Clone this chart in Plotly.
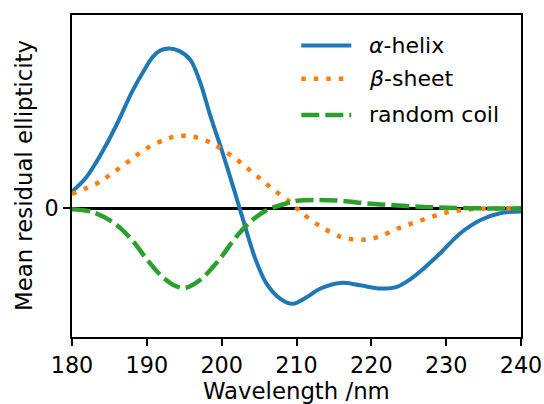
import plotly.graph_objects as go

# Wavelength (nm) and mean residual ellipticity (arbitrary units)
helix_x = [180, 181.8, 184.2, 186.2, 188.0, 190.0, 190.8, 191.8, 193.0, 194.3, 195.8, 197.1,
           198.5, 200.0, 201.5, 203.0, 204.5, 206.0, 207.8, 209.5, 211.4, 213.2,
           215.9, 218.5, 221.2, 223.4, 225.2, 226.5, 229.2, 231.9, 234.6, 237.2, 240]
helix_y = [4.2, 7.5, 14.6, 21.8, 29.0, 35.6, 37.8, 39.4, 39.9, 39.3, 37.1, 31.6,
           23.0, 14.6, 5.6, -3.7, -12.6, -18.8, -22.5, -23.8, -22.1, -20.0,
           -18.6, -19.2, -20.0, -19.6, -17.7, -15.8, -11.2, -6.2, -2.9, -1.2, -0.8]

sheet_x = [180, 183.3, 184.9, 187.4, 190.0, 192.9, 194.6, 196.1, 197.7, 199.1, 201.7, 204.3,
           206.7, 209.2, 210.5, 213.1, 215.9, 217.6, 219.2, 220.8, 223.6, 226.8, 229.9,
           232.8, 236, 240]
sheet_y = [3.6, 6.2, 8.1, 11.5, 15.0, 17.5, 18.1, 17.9, 17.1, 15.8, 12.6, 8.7,
           5.0, 1.5, -0.8, -4.4, -7.1, -7.75, -7.75, -7.2, -5.0, -2.9, -1.1,
           -0.3, 0.0, 0.0]

coil_x = [180, 182.9, 186.0, 188.2, 190.0, 192.2, 194.0, 195.2, 197.1, 199.8, 201.6, 203.8,
          206.1, 208.7, 210.1, 212.7, 215.9, 219.4, 223.0, 226.5, 230.1, 235, 240]
coil_y = [-0.2, -1.0, -4.2, -8.3, -12.7, -17.3, -19.5, -19.8, -17.9, -12.5, -7.9, -3.4,
          -0.4, 1.25, 1.9, 2.1, 1.9, 1.25, 0.8, 0.4, 0.15, 0.0, 0.0]

x_ticks = [180, 190, 200, 210, 220, 230, 240]
series_names = ["<i>α</i>-helix", "<i>β</i>-sheet", "random coil"]
colors = ["#1f77b4", "#ff7f0e", "#2ca02c"]
widths = [4, 4.5, 4.5]
dashes = ["solid", "4.5px,8px", "18px,6px"]

fig = go.Figure()
for xs, ys, name, c, w, d in zip([helix_x, sheet_x, coil_x], [helix_y, sheet_y, coil_y],
                                 series_names, colors, widths, dashes):
    fig.add_trace(go.Scatter(x=xs, y=ys, mode="lines", name=name, showlegend=False,
                             line=dict(color=c, width=w, dash=d, shape="spline", smoothing=1.0)))

# manual legend (matplotlib style: 50px handles, no frame)
leg_y = [0.9054, 0.8018, 0.6898]
for name, c, w, d, yy in zip(series_names, colors, widths, dashes, leg_y):
    fig.add_shape(type="line", xref="paper", yref="paper", x0=0.5107, x1=0.622, y0=yy, y1=yy,
                  line=dict(color=c, width=w, dash=d))
    fig.add_annotation(xref="paper", yref="paper", x=0.6577, y=yy, text=name, showarrow=False,
                       xanchor="left", yanchor="middle", font=dict(size=22, color="black"))

# axis titles
fig.add_annotation(xref="paper", yref="paper", x=0.5, y=0, yshift=-54, text="Wavelength /nm",
                   showarrow=False, xanchor="center", yanchor="middle",
                   font=dict(size=22.8, color="black"))
fig.add_annotation(xref="paper", yref="paper", x=0, y=0.5, xshift=-48,
                   text="Mean residual ellipticity", textangle=-90, showarrow=False,
                   xanchor="center", yanchor="middle", font=dict(size=22.8, color="black"))

fig.update_layout(
    width=544, height=404,
    margin=dict(l=72, r=23, t=15, b=67, autoexpand=False),
    paper_bgcolor="white", plot_bgcolor="white",
    font=dict(family="DejaVu Sans", size=22, color="black"),
    showlegend=False,
)
fig.update_xaxes(range=[180, 240], tickvals=x_ticks, ticks="outside", ticklen=7, tickwidth=1.5,
                 tickcolor="black", showline=True, mirror=True, linecolor="black", linewidth=1.6,
                 showgrid=False, zeroline=False, tickfont=dict(size=22.3), automargin=False)
fig.update_yaxes(range=[-32.1, 48.25], tickvals=[0], ticktext=["0"], ticks="outside", ticklen=7,
                 tickwidth=1.5, tickcolor="black", showline=True, mirror=True, linecolor="black",
                 linewidth=1.6, showgrid=False, zeroline=True, zerolinecolor="black",
                 zerolinewidth=2.7, tickfont=dict(size=22.3), automargin=False)

fig.write_html("out.html", config={"displayModeBar": False},
               post_script="document.body.style.margin='0px';document.body.style.overflow='hidden';")
